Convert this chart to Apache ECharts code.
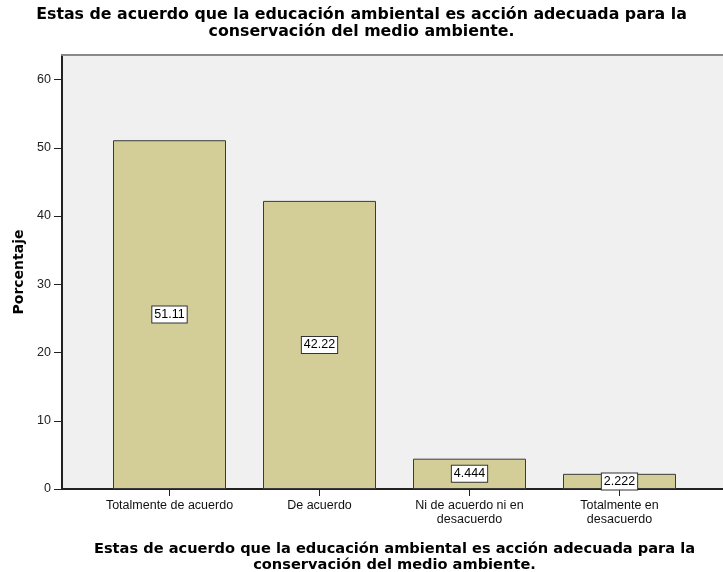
<!DOCTYPE html>
<html><head><meta charset="utf-8">
<script src="https://cdn.jsdelivr.net/npm/echarts@6/dist/echarts.min.js"></script>
<style>html,body{margin:0;padding:0;background:#fff}#c{width:723px;height:572px}</style>
</head><body><div id="c"></div>
<script>
var categories = ['Totalmente de acuerdo', 'De acuerdo', 'Ni de acuerdo ni en\ndesacuerdo', 'Totalmente en\ndesacuerdo'];
var values = [51.11, 42.22, 4.444, 2.222];
var yTicks = [0, 10, 20, 30, 40, 50, 60];
var titleText = 'Estas de acuerdo que la educación ambiental es acción adecuada para la\nconservación del medio ambiente.';
var yName = 'Porcentaje';

var FONT = 'Arial, "Liberation Sans", sans-serif';
var BFONT = '"DejaVu Sans", sans-serif';
var chart = echarts.init(document.getElementById('c'));
var yMax = 63.6;
chart.setOption({
  animation: false,
  textStyle: {fontFamily: FONT},
  title: {
    text: titleText, left: 'center', top: 1,
    textStyle: {fontFamily: BFONT, fontSize: 15.8, fontWeight: 'bold', color: '#000', lineHeight: 17}
  },
  grid: [
    {left: 62, right: 0, top: 55, bottom: 83, show: true, backgroundColor: '#f0f0f0', borderWidth: 0, outerBoundsMode: 'none', containLabel: false},
    {left: 94.5, width: 600, top: 55, bottom: 83, outerBoundsMode: 'none', containLabel: false}
  ],
  xAxis: [
    {gridIndex: 0, type: 'category', data: categories, position: 'bottom',
     axisLine: {show: true, lineStyle: {color: '#222', width: 2}}, axisTick: {show: false}, axisLabel: {show: false}},
    {gridIndex: 0, type: 'category', data: categories, position: 'top',
     axisLine: {show: true, lineStyle: {color: '#8a8a8a', width: 2}}, axisTick: {show: false}, axisLabel: {show: false}},
    {gridIndex: 1, type: 'category', data: categories, position: 'bottom',
     axisLine: {show: false},
     axisTick: {show: true, alignWithLabel: true, length: 7, lineStyle: {color: '#222', width: 1}},
     axisLabel: {fontFamily: FONT, fontSize: 12.5, color: '#111', margin: 10, lineHeight: 14, interval: 0},
     name: titleText, nameLocation: 'middle', nameGap: 52,
     nameTextStyle: {fontFamily: BFONT, fontSize: 14.6, fontWeight: 'bold', color: '#000', lineHeight: 16}}
  ],
  yAxis: [
    {gridIndex: 0, type: 'value', min: 0, max: yMax,
     axisLine: {show: true, lineStyle: {color: '#222', width: 2}},
     axisTick: {show: true, length: 8, customValues: yTicks, lineStyle: {color: '#222', width: 1}},
     axisLabel: {customValues: yTicks, fontFamily: FONT, fontSize: 12.5, color: '#222', margin: 11},
     splitLine: {show: false},
     name: yName, nameLocation: 'middle', nameGap: 36, nameRotate: 90,
     nameTextStyle: {fontFamily: BFONT, fontSize: 14, fontWeight: 'bold', color: '#000'}},
    {gridIndex: 1, type: 'value', min: 0, max: yMax, show: false, splitLine: {show: false}}
  ],
  series: [{
    type: 'bar', xAxisIndex: 2, yAxisIndex: 1, data: values, barWidth: 113,
    itemStyle: {color: '#d3ce98', borderColor: '#3a3a3a', borderWidth: 1},
    label: {show: true, position: 'inside', formatter: function(p){return String(p.value);},
      fontFamily: FONT, fontSize: 12.5, color: '#000', backgroundColor: '#fff',
      borderColor: '#333', borderWidth: 1, padding: [2, 2, 1, 2]}
  }]
});
</script></body></html>
